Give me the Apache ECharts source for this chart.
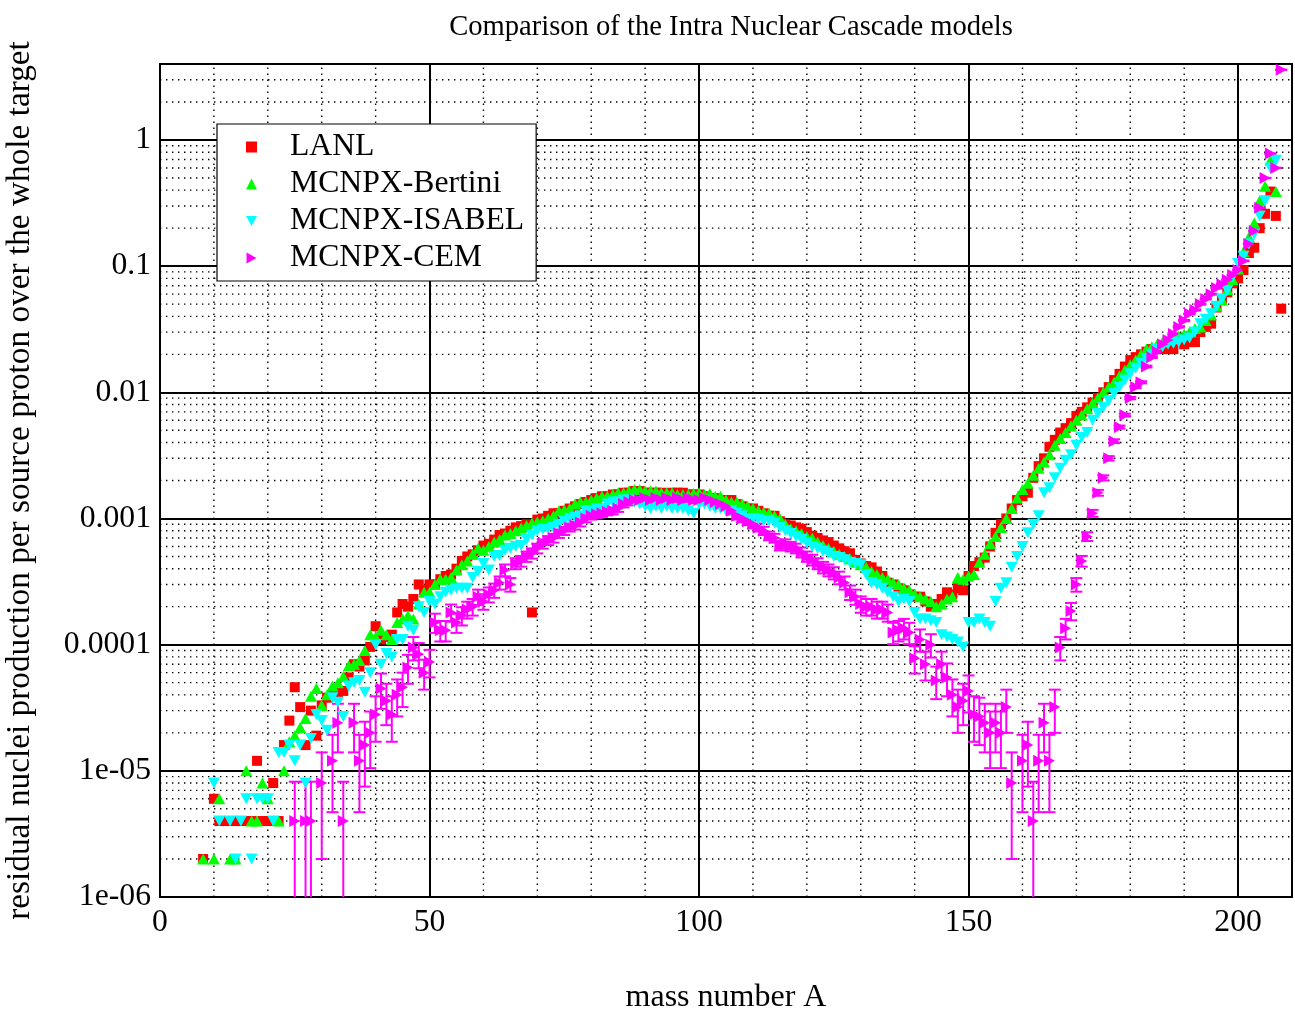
<!DOCTYPE html>
<html>
<head>
<meta charset="utf-8">
<script src="https://cdn.jsdelivr.net/npm/echarts@6/dist/echarts.min.js"></script>
<style>html,body{margin:0;padding:0;background:#fff;}#c{width:1295px;height:1010px;}</style>
</head>
<body>
<div id="c"></div>
<script>
// ---------- data (mass number A, residual nuclei production per source proton) ----------
const seriesNames = ['LANL', 'MCNPX-Bertini', 'MCNPX-ISABEL', 'MCNPX-CEM'];

const lanl = [[8,2e-6],[10,6e-6],[11,4e-6],[12,4e-6],[13,4e-6],[14,4e-6],[15,4e-6],[16,4e-6],[17,4e-6],[18,1.2e-5],[19,4e-6],[20,4e-6],[21,8e-6],[22,4e-6],[23,1.6e-5],[24,2.5e-5],[25,4.6e-5],[26,3.2e-5],[27,1.6e-5],[28,3e-5],[29,1.9e-5],[30,3.3e-5],[31,3.8e-5],[32,4e-5],[33,4.2e-5],[34,4.3e-5],[35,5.5e-5],[36,7e-5],[37,6.7e-5],[38,7.5e-5],[39,9.6e-5],[40,1.4e-4],[41,1.1e-4],[42,1.15e-4],[43,1.2e-4],[44,1.8e-4],[45,2.1e-4],[46,2e-4],[47,2.3e-4],[48,3e-4],[49,2.7e-4],[50,3e-4],
[51,3e-4],[52,3.3e-4],[53,3.5e-4],[54,3.6e-4],[55,4e-4],[56,4.6e-4],[57,5e-4],[58,5.2e-4],[59,5.6e-4],[60,6.1e-4],[61,6.3e-4],[62,6.8e-4],[63,7.4e-4],[64,7.6e-4],[65,8e-4],[66,8.5e-4],[67,8.7e-4],[68,9e-4],[69,1.8e-4],[70,9.8e-4],[71,1e-3],[72,1.05e-3],[73,1.1e-3],[74,1.1e-3],[75,1.15e-3],[76,1.2e-3],[77,1.25e-3],[78,1.3e-3],[79,1.35e-3],[80,1.4e-3],[81,1.45e-3],[82,1.5e-3],[83,1.5e-3],[84,1.55e-3],[85,1.55e-3],[86,1.6e-3],[87,1.6e-3],[88,1.65e-3],[89,1.65e-3],[90,1.6e-3],[91,1.6e-3],[92,1.6e-3],[93,1.6e-3],[94,1.55e-3],[95,1.6e-3],[96,1.6e-3],[97,1.6e-3],[98,1.55e-3],[99,1.55e-3],[100,1.55e-3],
[101,1.5e-3],[102,1.45e-3],[103,1.45e-3],[104,1.4e-3],[105,1.4e-3],[106,1.4e-3],[107,1.3e-3],[108,1.25e-3],[109,1.2e-3],[110,1.2e-3],[111,1.15e-3],[112,1.1e-3],[113,1.05e-3],[114,1.05e-3],[115,9.5e-4],[116,9e-4],[117,8.8e-4],[118,8.5e-4],[119,8.3e-4],[120,7.8e-4],[121,7.3e-4],[122,7e-4],[123,6.7e-4],[124,6.5e-4],[125,6.1e-4],[126,5.8e-4],[127,5.5e-4],[128,5.3e-4],[129,4.7e-4],[130,4.4e-4],[131,4.2e-4],[132,4.1e-4],[133,3.8e-4],[134,3.5e-4],[135,3.1e-4],[136,3e-4],[137,2.8e-4],[138,2.7e-4],[139,2.5e-4],[140,2.4e-4],[141,2.4e-4],[142,2.2e-4],[143,2e-4],[144,2.1e-4],[145,2.3e-4],[146,2.6e-4],[147,2.5e-4],[148,2.8e-4],[149,2.7e-4],[150,3.5e-4],
[151,4.2e-4],[152,4.5e-4],[153,4.9e-4],[154,6e-4],[155,7.7e-4],[156,9e-4],[157,1e-3],[158,1.2e-3],[159,1.4e-3],[160,1.5e-3],[161,1.6e-3],[162,2.1e-3],[163,2.6e-3],[164,3e-3],[165,3.7e-3],[166,4.2e-3],[167,4.8e-3],[168,5.2e-3],[169,5.7e-3],[170,6.5e-3],[171,7e-3],[172,7.6e-3],[173,8.3e-3],[174,9e-3],[175,1e-2],[176,1.1e-2],[177,1.25e-2],[178,1.4e-2],[179,1.6e-2],[180,1.8e-2],[181,1.9e-2],[182,2e-2],[183,2.1e-2],[184,2.2e-2],[185,2.2e-2],[186,2.2e-2],[187,2.2e-2],[188,2.2e-2],[189,2.7e-2],[190,2.4e-2],[191,2.5e-2],[192,2.5e-2],[193,3e-2],[194,3.3e-2],[195,3.5e-2],[196,4.7e-2],[197,5.5e-2],[198,6.2e-2],[199,7.3e-2],[200,8e-2],
[201,9.3e-2],[202,0.127],[203,0.14],[204,0.2],[205,0.26],[206,0.39],[207,0.25],[208,0.046]];

const bertini = [[8,2e-6],[10,2e-6],[11,6e-6],[13,2e-6],[14,2e-6],[16,1e-5],[17,4e-6],[18,4e-6],[19,8e-6],[20,6e-6],[22,4e-6],[23,1e-5],[24,1.7e-5],[25,1.9e-5],[26,2.2e-5],[27,2.6e-5],[28,3.9e-5],[29,4.5e-5],[30,3.3e-5],[31,4e-5],[32,4.7e-5],[33,5e-5],[34,5.6e-5],[35,6.8e-5],[36,7e-5],[37,7.5e-5],[38,9e-5],[39,1.2e-4],[40,1.15e-4],[41,1.3e-4],[42,1.2e-4],[43,1.1e-4],[44,1.5e-4],[45,1.6e-4],[46,1.7e-4],[47,1.6e-4],[48,2.1e-4],[49,2.6e-4],[50,2.6e-4],
[51,3e-4],[52,3.3e-4],[53,3.3e-4],[54,3.4e-4],[55,3.9e-4],[56,4.3e-4],[57,4.6e-4],[58,5.2e-4],[59,5.8e-4],[60,5.6e-4],[61,6e-4],[62,6.5e-4],[63,6.8e-4],[64,7.4e-4],[65,7.6e-4],[66,8e-4],[67,8.4e-4],[68,8.8e-4],[69,9.2e-4],[70,9.4e-4],[71,9.6e-4],[72,1e-3],[73,1.05e-3],[74,1.15e-3],[75,1.17e-3],[76,1.2e-3],[77,1.3e-3],[78,1.35e-3],[79,1.35e-3],[80,1.4e-3],[81,1.45e-3],[82,1.5e-3],[83,1.5e-3],[84,1.55e-3],[85,1.6e-3],[86,1.6e-3],[87,1.65e-3],[88,1.7e-3],[89,1.7e-3],[90,1.65e-3],[91,1.65e-3],[92,1.65e-3],[93,1.6e-3],[94,1.6e-3],[95,1.6e-3],[96,1.55e-3],[97,1.55e-3],[98,1.55e-3],[99,1.58e-3],[100,1.6e-3],
[101,1.55e-3],[102,1.58e-3],[103,1.5e-3],[104,1.5e-3],[105,1.4e-3],[106,1.35e-3],[107,1.35e-3],[108,1.3e-3],[109,1.25e-3],[110,1.2e-3],[111,1.15e-3],[112,1.12e-3],[113,1.1e-3],[114,1.05e-3],[115,1e-3],[116,9e-4],[117,8.3e-4],[118,8e-4],[119,7.6e-4],[120,7.2e-4],[121,7e-4],[122,6.5e-4],[123,6.1e-4],[124,5.8e-4],[125,5.5e-4],[126,5.2e-4],[127,5e-4],[128,4.8e-4],[129,4.5e-4],[130,4.3e-4],[131,4.1e-4],[132,3.8e-4],[133,3.6e-4],[134,3.4e-4],[135,3.3e-4],[136,3.1e-4],[137,3e-4],[138,2.8e-4],[139,2.7e-4],[140,2.5e-4],[141,2.4e-4],[142,2.3e-4],[143,2.2e-4],[144,2e-4],[145,2.1e-4],[146,2.3e-4],[147,2.4e-4],[148,3.4e-4],[149,3.3e-4],[150,3.5e-4],
[151,3.6e-4],[152,4.5e-4],[153,5.2e-4],[154,6.3e-4],[155,7.2e-4],[156,8.5e-4],[157,1e-3],[158,1.2e-3],[159,1.45e-3],[160,1.7e-3],[161,1.9e-3],[162,2.2e-3],[163,2.5e-3],[164,2.8e-3],[165,3.2e-3],[166,3.8e-3],[167,4.3e-3],[168,4.8e-3],[169,5.4e-3],[170,6e-3],[171,6.6e-3],[172,7.4e-3],[173,8.2e-3],[174,9e-3],[175,1e-2],[176,1.1e-2],[177,1.2e-2],[178,1.35e-2],[179,1.5e-2],[180,1.65e-2],[181,1.8e-2],[182,2e-2],[183,2.2e-2],[184,2.3e-2],[185,2.4e-2],[186,2.5e-2],[187,2.6e-2],[188,2.7e-2],[189,2.8e-2],[190,2.9e-2],[191,3e-2],[192,3.2e-2],[193,3.3e-2],[194,3.7e-2],[195,4.1e-2],[196,4.8e-2],[197,5.4e-2],[198,6.5e-2],[199,7.8e-2],[200,9.5e-2],
[201,0.13],[202,0.17],[203,0.22],[204,0.33],[205,0.43],[206,0.69],[207,0.39]];

const isabel = [[10,8e-6],[11,4e-6],[13,4e-6],[14,2e-6],[15,4e-6],[16,6e-6],[17,2e-6],[18,6e-6],[19,6e-6],[20,6e-6],[21,4e-6],[22,1.4e-5],[23,1.4e-5],[24,1.6e-5],[25,1.2e-5],[26,1.6e-5],[27,8e-6],[28,1.8e-5],[29,2.8e-5],[30,2.5e-5],[31,2.1e-5],[32,3.8e-5],[33,3.5e-5],[34,2.7e-5],[35,4.7e-5],[36,5e-5],[37,5.2e-5],[38,4.2e-5],[39,6e-5],[40,1e-4],[41,7e-5],[42,8.5e-5],[43,8e-5],[44,1.1e-4],[45,1.1e-4],[46,1.4e-4],[47,1.3e-4],[48,2e-4],[49,1.8e-4],[50,2.2e-4],
[51,2.1e-4],[52,2.4e-4],[53,2.6e-4],[54,2.7e-4],[55,2.8e-4],[56,2.8e-4],[57,2.8e-4],[58,3.4e-4],[59,3.8e-4],[60,4.4e-4],[61,3.9e-4],[62,5e-4],[63,5.1e-4],[64,5.6e-4],[65,5.8e-4],[66,6e-4],[67,6.1e-4],[68,6.8e-4],[69,7.4e-4],[70,8e-4],[71,8.2e-4],[72,8.3e-4],[73,8.5e-4],[74,9e-4],[75,9.5e-4],[76,1e-3],[77,1.02e-3],[78,1.05e-3],[79,1.15e-3],[80,1.15e-3],[81,1.2e-3],[82,1.2e-3],[83,1.3e-3],[84,1.35e-3],[85,1.35e-3],[86,1.4e-3],[87,1.4e-3],[88,1.35e-3],[89,1.3e-3],[90,1.25e-3],[91,1.2e-3],[92,1.25e-3],[93,1.2e-3],[94,1.25e-3],[95,1.2e-3],[96,1.2e-3],[97,1.2e-3],[98,1.15e-3],[99,1.1e-3],[100,1.3e-3],
[101,1.3e-3],[102,1.25e-3],[103,1.2e-3],[104,1.2e-3],[105,1.15e-3],[106,1.15e-3],[107,1.1e-3],[108,1.05e-3],[109,1e-3],[110,1e-3],[111,9.8e-4],[112,9.6e-4],[113,9.6e-4],[114,9.2e-4],[115,8.5e-4],[116,8e-4],[117,7.6e-4],[118,7.2e-4],[119,6.8e-4],[120,6.4e-4],[121,6e-4],[122,5.8e-4],[123,5.5e-4],[124,5.3e-4],[125,5e-4],[126,4.9e-4],[127,4.7e-4],[128,4.5e-4],[129,4.4e-4],[130,4.3e-4],[131,3.6e-4],[132,3.1e-4],[133,3e-4],[134,2.8e-4],[135,2.6e-4],[136,2.4e-4],[137,2.2e-4],[138,2.3e-4],[139,2.2e-4],[140,1.8e-4],[141,1.6e-4],[142,1.6e-4],[143,1.55e-4],[144,1.5e-4],[145,1.2e-4],[146,1.15e-4],[147,1.1e-4],[148,1.05e-4],[149,9.6e-5],[150,1.5e-4],
[151,1.5e-4],[152,1.6e-4],[153,1.5e-4],[154,1.4e-4],[155,2.2e-4],[156,2.8e-4],[157,3.1e-4],[158,4.1e-4],[159,5e-4],[160,6e-4],[161,7.7e-4],[162,9e-4],[163,1.05e-3],[164,1.6e-3],[165,1.75e-3],[166,2.1e-3],[167,2.5e-3],[168,2.9e-3],[169,3.2e-3],[170,3.8e-3],[171,4.4e-3],[172,4.8e-3],[173,6e-3],[174,6.8e-3],[175,7.6e-3],[176,8.6e-3],[177,9.8e-3],[178,1.1e-2],[179,1.25e-2],[180,1.4e-2],[181,1.55e-2],[182,1.7e-2],[183,1.85e-2],[184,2e-2],[185,2.2e-2],[186,2.3e-2],[187,2.4e-2],[188,2.45e-2],[189,2.5e-2],[190,2.6e-2],[191,2.7e-2],[192,3e-2],[193,3.5e-2],[194,3.8e-2],[195,4.2e-2],[196,4.8e-2],[197,5.5e-2],[198,6.4e-2],[199,8.2e-2],[200,0.105],
[201,0.12],[202,0.15],[203,0.18],[204,0.25],[205,0.33],[206,0.6],[207,0.69]];

// CEM: [A, value, statistical error]
const cem = [[25,4e-6,4.2e-6],[27,4e-6,4.2e-6],[28,4e-6,4.2e-6],[30,8e-6,6e-6],[32,1.2e-5,7.3e-6],[33,2.4e-5,1e-5],[34,4e-6,4.2e-6],[36,2.4e-5,1e-5],[37,1.2e-5,7.3e-6],[38,1.6e-5,8.5e-6],[39,2e-5,9.5e-6],[40,2.8e-5,1.1e-5],[41,4.5e-5,1.4e-5],[42,3.6e-5,1.3e-5],[43,2.8e-5,1.1e-5],[44,4e-5,1.3e-5],[45,4.6e-5,1.4e-5],[46,6.6e-5,1.7e-5],[47,9.5e-5,2e-5],[48,8.4e-5,1.9e-5],[49,6e-5,1.6e-5],[50,7.3e-5,1.8e-5],
[51,1.5e-4,2.6e-5],[52,1.3e-4,2.4e-5],[53,1.3e-4,2.4e-5],[54,1.8e-4,2.8e-5],[55,1.5e-4,2.6e-5],[56,1.7e-4,2.8e-5],[57,1.9e-4,2.9e-5],[58,2e-4,3e-5],[59,2.4e-4,3.3e-5],[60,2.2e-4,3.1e-5],[61,2.5e-4,3.4e-5],[62,2.7e-4,3.5e-5],[63,3.1e-4,3.7e-5],[64,3.9e-4,4.2e-5],[65,3e-4,3.7e-5],[66,4.4e-4,4.4e-5],[67,4.6e-4,4.5e-5],[68,5e-4,4.7e-5],[69,5.3e-4,4.9e-5],[70,5.8e-4,5.1e-5],[71,6.3e-4,5.3e-5],[72,6.7e-4,5.5e-5],[73,7e-4,5.6e-5],[74,7.6e-4,5.8e-5],[75,8e-4,6e-5],[76,8.5e-4,6.2e-5],[77,8.8e-4,6.3e-5],[78,9.3e-4,6.5e-5],[79,1e-3,6.7e-5],[80,1.05e-3,6.9e-5],[81,1.08e-3,7e-5],[82,1.1e-3,7e-5],[83,1.13e-3,7.1e-5],[84,1.15e-3,7.2e-5],[85,1.2e-3,7.3e-5],[86,1.3e-3,7.6e-5],[87,1.35e-3,7.8e-5],[88,1.4e-3,7.9e-5],[89,1.4e-3,7.9e-5],[90,1.45e-3,8.1e-5],[91,1.4e-3,7.9e-5],[92,1.45e-3,8.1e-5],[93,1.4e-3,7.9e-5],[94,1.45e-3,8.1e-5],[95,1.4e-3,7.9e-5],[96,1.45e-3,8.1e-5],[97,1.4e-3,7.9e-5],[98,1.45e-3,8.1e-5],[99,1.4e-3,7.9e-5],[100,1.4e-3,7.9e-5],
[101,1.45e-3,8.1e-5],[102,1.4e-3,7.9e-5],[103,1.35e-3,7.8e-5],[104,1.3e-3,7.6e-5],[105,1.25e-3,7.5e-5],[106,1.15e-3,7.2e-5],[107,1.05e-3,6.9e-5],[108,1e-3,6.7e-5],[109,9.5e-4,6.5e-5],[110,9e-4,6.4e-5],[111,8.5e-4,6.2e-5],[112,8e-4,6e-5],[113,7.3e-4,5.7e-5],[114,7e-4,5.6e-5],[115,6.1e-4,5.2e-5],[116,6.3e-4,5.3e-5],[117,6e-4,5.2e-5],[118,5.8e-4,5.1e-5],[119,5.4e-4,4.9e-5],[120,5e-4,4.7e-5],[121,4.7e-4,4.6e-5],[122,4.4e-4,4.4e-5],[123,4.1e-4,4.3e-5],[124,3.9e-4,4.2e-5],[125,3.7e-4,4.1e-5],[126,3.4e-4,3.9e-5],[127,3.1e-4,3.7e-5],[128,2.6e-4,3.4e-5],[129,2.4e-4,3.3e-5],[130,2.1e-4,3.1e-5],[131,2e-4,3e-5],[132,2e-4,3e-5],[133,1.9e-4,2.9e-5],[134,1.9e-4,2.9e-5],[135,1.8e-4,2.8e-5],[136,1.25e-4,2.4e-5],[137,1.3e-4,2.4e-5],[138,1.35e-4,2.5e-5],[139,1.25e-4,2.4e-5],[140,7.8e-5,1.9e-5],[141,1.1e-4,2.2e-5],[142,7e-5,1.8e-5],[143,1e-4,2.1e-5],[144,5.2e-5,1.5e-5],[145,7e-5,1.8e-5],[146,5.5e-5,1.6e-5],[147,4e-5,1.3e-5],[148,3.2e-5,1.2e-5],[149,3.6e-5,1.3e-5],[150,4.3e-5,1.4e-5],
[151,2.8e-5,1.1e-5],[152,2.7e-5,1.1e-5],[153,2.4e-5,1e-5],[154,2e-5,9.5e-6],[155,2.4e-5,1e-5],[156,2e-5,9.5e-6],[157,3.2e-5,1.2e-5],[158,8e-6,6e-6],[160,1.2e-5,7.3e-6],[161,1.6e-5,8.5e-6],[162,4e-6,4.2e-6],[163,1.2e-5,7.3e-6],[164,2.4e-5,1e-5],[165,1.2e-5,7.3e-6],[166,3.2e-5,1.2e-5],[167,9.5e-5,2e-5],[168,1.35e-4,2.5e-5],[169,1.85e-4,2.9e-5],[170,3e-4,3.7e-5],[171,4.6e-4,4.5e-5],[172,7.2e-4,5.7e-5],[173,1.1e-3,7e-5],[174,1.6e-3,8.5e-5],[175,2.1e-3,9.7e-5],[176,3e-3,1.2e-4],[177,4.1e-3,1.4e-4],[178,5.3e-3,1.5e-4],[179,6.6e-3,1.7e-4],[180,9e-3,2e-4],[181,1.1e-2,2.2e-4],[182,1.2e-2,2.3e-4],[183,1.6e-2,2.7e-4],[184,1.9e-2,2.9e-4],[185,2.1e-2,3.1e-4],[186,2.4e-2,3.3e-4],[187,2.6e-2,3.4e-4],[188,2.9e-2,3.6e-4],[189,3.3e-2,3.9e-4],[190,3.7e-2,4.1e-4],[191,4.2e-2,4.3e-4],[192,4.5e-2,4.5e-4],[193,5e-2,4.7e-4],[194,5.5e-2,5e-4],[195,6e-2,5.2e-4],[196,6.7e-2,5.5e-4],[197,7.2e-2,5.7e-4],[198,7.8e-2,5.9e-4],[199,8.5e-2,6.2e-4],[200,9.3e-2,6.5e-4],
[201,0.11,7e-4],[202,0.15,8e-4],[203,0.19,9e-4],[204,0.29,1.1e-3],[205,0.5,1.5e-3],[206,0.78,1.9e-3],[207,0.6,1.6e-3],[208,3.6,4e-3]];

// ---------- axes / ticks ----------
const xTickValues = [0, 50, 100, 150, 200];
const xMinorTicks = [10,20,30,40,60,70,80,90,110,120,130,140,160,170,180,190];
const yTickValues = [1e-6, 1e-5, 1e-4, 1e-3, 1e-2, 1e-1, 1];
const yTickLabels = ['1e-06', '1e-05', '0.0001', '0.001', '0.01', '0.1', '1'];
const yMinorTicks = [];
[-6,-5,-4,-3,-2,-1,0].forEach(function (e) {
  for (let m = 2; m <= 9; m++) { const v = m * Math.pow(10, e); if (v < 4) yMinorTicks.push(v); }
});
const X_MIN = 0, X_MAX = 210, Y_MIN = 1e-6, Y_MAX = 4;

const FONT = '"Liberation Serif", "Times New Roman", serif';

const chart = echarts.init(document.getElementById('c'), null, { renderer: 'canvas' });

function dottedLine(p0, p1) {
  return { type: 'line', shape: { x1: p0[0], y1: p0[1], x2: p1[0], y2: p1[1] },
           style: { stroke: '#000', lineWidth: 1.4, lineDash: [1.4, 4.6] }, silent: true };
}

const option = {
  animation: false,
  backgroundColor: '#fff',
  title: {
    text: 'Comparison of the Intra Nuclear Cascade models',
    left: 726, top: 8, textAlign: 'center',
    textStyle: { fontFamily: FONT, fontSize: 28.6, fontWeight: 'normal', color: '#000' }
  },
  legend: {
    data: seriesNames,
    orient: 'vertical',
    left: 217, top: 124,
    backgroundColor: '#fff',
    borderColor: '#000', borderWidth: 1.2,
    padding: [7, 12, 7, 29],
    itemGap: 5, itemWidth: 11, itemHeight: 11,
    textStyle: { fontFamily: FONT, fontSize: 31.7, color: '#000', lineHeight: 30, padding: [0, 0, 0, 28] },
    selectedMode: false
  },
  grid: { left: 160, top: 64, width: 1132, height: 833, containLabel: false, outerBoundsMode: 'none',
          show: true, borderColor: '#000', borderWidth: 2, backgroundColor: 'transparent' },
  xAxis: {
    type: 'value', min: X_MIN, max: X_MAX, interval: 50,
    name: 'mass number A', nameLocation: 'middle', nameGap: 85,
    nameTextStyle: { fontFamily: FONT, fontSize: 32, color: '#000' },
    axisLine: { show: true, lineStyle: { color: '#000', width: 2 } },
    axisTick: { show: false },
    axisLabel: { fontFamily: FONT, fontSize: 31.7, color: '#000', margin: 10,
      formatter: function (v) { return xTickValues.indexOf(v) >= 0 ? String(v) : ''; } },
    splitLine: { show: true, lineStyle: { color: '#000', width: 2 } }
  },
  yAxis: {
    type: 'log', logBase: 10, min: Y_MIN, max: Y_MAX,
    name: 'residual nuclei production per source proton over the whole target',
    nameLocation: 'middle', nameGap: 123,
    nameTextStyle: { fontFamily: FONT, fontSize: 33.3, color: '#000' },
    axisLine: { show: true, lineStyle: { color: '#000', width: 2 } },
    axisTick: { show: false },
    axisLabel: { fontFamily: FONT, fontSize: 31.7, color: '#000', margin: 9,
      formatter: function (v) {
        for (let i = 0; i < yTickValues.length; i++) {
          if (Math.abs(Math.log10(v) - Math.log10(yTickValues[i])) < 1e-6) return yTickLabels[i];
        }
        return '';
      } },
    splitLine: { show: true, lineStyle: { color: '#000', width: 2 } }
  },
  series: [
    { // dotted minor grid, vertical
      type: 'custom', silent: true, z: 1, legendHoverLink: false,
      data: xMinorTicks.map(function (v) { return [v, 1e-3]; }),
      renderItem: function (params, api) {
        const x = api.value(0);
        return dottedLine(api.coord([x, Y_MIN]), api.coord([x, Y_MAX]));
      }
    },
    { // dotted minor grid, horizontal
      type: 'custom', silent: true, z: 1, legendHoverLink: false,
      data: yMinorTicks.map(function (v) { return [100, v]; }),
      renderItem: function (params, api) {
        const y = api.value(1);
        return dottedLine(api.coord([X_MIN, y]), api.coord([X_MAX, y]));
      }
    },
    { name: 'LANL', type: 'scatter', z: 3, data: lanl, symbol: 'rect', symbolSize: 10,
      itemStyle: { color: '#ff0000', opacity: 1 } },
    { name: 'MCNPX-Bertini', type: 'scatter', z: 3, data: bertini, symbol: 'triangle', symbolSize: [12, 11],
      itemStyle: { color: '#00ff00', opacity: 1 } },
    { name: 'MCNPX-ISABEL', type: 'scatter', z: 3, data: isabel, symbol: 'path://M0,0L10,0L5,9Z', symbolSize: [12, 11],
      itemStyle: { color: '#00ffff', opacity: 1 } },
    { // CEM error bars
      type: 'custom', z: 3, silent: true,
      data: cem,
      encode: { x: 0, y: 1 },
      renderItem: function (params, api) {
        const x = api.value(0), v = api.value(1), s = api.value(2);
        const cs = params.coordSys;
        const bottom = cs.y + cs.height, top = cs.y;
        const hw = 6;
        const px = api.coord([x, v])[0];
        let yHi = api.coord([x, v + s])[1];
        let capHi = true, capLo = true, yLo;
        if (v - s > 0) {
          yLo = api.coord([x, v - s])[1];
          if (yLo > bottom) { yLo = bottom; capLo = false; }
        } else { yLo = bottom; capLo = false; }
        if (yHi < top) { yHi = top; capHi = false; }
        const st = { stroke: '#ff00ff', lineWidth: 2 };
        const ch = [{ type: 'line', shape: { x1: px, y1: yHi, x2: px, y2: yLo }, style: st }];
        if (capHi) ch.push({ type: 'line', shape: { x1: px - hw, y1: yHi, x2: px + hw, y2: yHi }, style: st });
        if (capLo) ch.push({ type: 'line', shape: { x1: px - hw, y1: yLo, x2: px + hw, y2: yLo }, style: st });
        return { type: 'group', children: ch };
      }
    },
    { name: 'MCNPX-CEM', type: 'scatter', z: 4, data: cem.map(function (d) { return [d[0], d[1]]; }),
      symbol: 'path://M0,0L9,5L0,10Z', symbolSize: [11, 12],
      itemStyle: { color: '#ff00ff', opacity: 1 } }
  ]
};
chart.setOption(option);
</script>
</body>
</html>
